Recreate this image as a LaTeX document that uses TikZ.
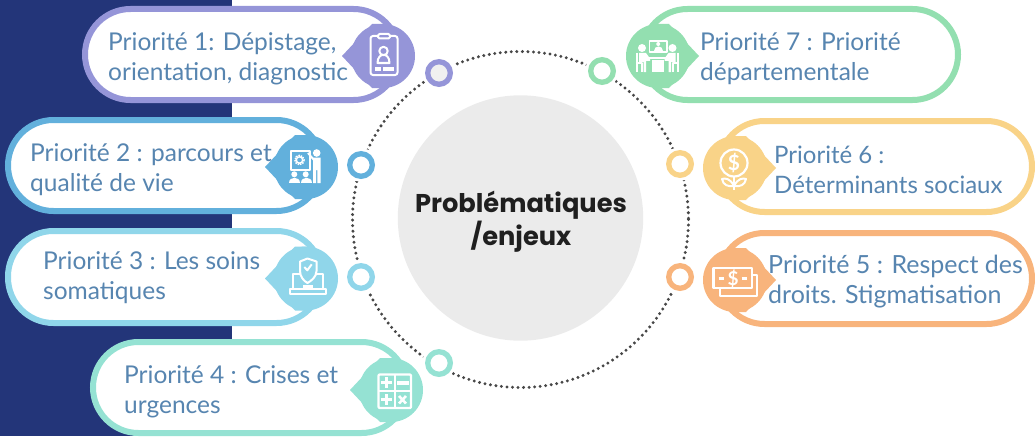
\documentclass[tikz,border=0pt]{standalone}
\usepackage{fontspec}
\setmainfont{Lato}
\newfontfamily\titlefont{Poppins}
\definecolor{prioA}{HTML}{9595D8}
\definecolor{prioB}{HTML}{62B0DC}
\definecolor{prioC}{HTML}{90D6EA}
\definecolor{prioD}{HTML}{95E2D3}
\definecolor{prioE}{HTML}{F8B47C}
\definecolor{prioF}{HTML}{F9D388}
\definecolor{prioG}{HTML}{93DFB0}
\definecolor{prionavy}{HTML}{233579}
\definecolor{priotext}{HTML}{5785B0}
\tikzset{
	pill/.style={draw=#1, line width=6pt, fill=white, rounded corners=45.5pt},
	ring/.style={circle, draw=#1, line width=5.3pt, fill=white, minimum size=22.6pt, inner sep=0pt, preaction={draw=white, line width=11pt}},
	prio/.style={anchor=base west, inner sep=0pt, text=priotext, font=\fontsize{24.5pt}{30pt}\selectfont},
	icon/.style={draw=white, line width=2pt, line join=round},
	iconfill/.style={fill=white},
}
\newcommand{\twolines}[2]{\vtop{\hbox{#1}\hbox{#2}}}
% pointed badge: colour, centre x, centre y, side of the tip (1 = left, -1 = right)
\newcommand{\badge}[4]{
	\fill[#1] (#2, #3) circle (32);
	\fill[#1] ({#2-41*#4}, #3)--({#2-11*#4}, {#3-32})--(#2, {#3-32})--(#2, {#3+32})--({#2-11*#4}, {#3+32})--cycle;
}
\begin{document}
\begin{tikzpicture}[x=1pt, y=-1pt]
	\useasboundingbox (0, 0) rectangle (1035, 436);
	\fill[prionavy] (0, 0) rectangle (232, 436);
	\fill[black!8] (520.5, 218) circle (122.7);
	\draw[line width=3.3pt, black!72, line cap=round, dash pattern=on 0pt off 5.55pt] (520.5, 219.5) circle (168);
	\node[font=\titlefont\bfseries\fontsize{25.7pt}{33pt}\selectfont, text=black!88, anchor=base, inner sep=0pt] (title) at (521, 212) {\vtop{\hbox to 0pt{\hss Problématiques\hss}\hbox to 0pt{\hss /enjeux\hss}}};
	% boxes on the left
	\draw[pill=prioA] (85, 9) rectangle (399, 100);
	\draw[pill=prioB] (8, 120) rectangle (322, 211);
	\draw[pill=prioC] (8, 231) rectangle (322, 323);
	\draw[pill=prioD] (93, 342) rectangle (407, 433);
	% boxes on the right
	\draw[pill=prioG] (642, 9) rectangle (958, 100);
	\draw[pill=prioF] (719, 121) rectangle (1032, 212);
	\draw[pill=prioE] (719, 233) rectangle (1032, 324);
	\badge{prioA}{383}{56}{1}
	\badge{prioB}{306}{167}{1}
	\badge{prioC}{306}{278.5}{1}
	\badge{prioD}{391}{390}{1}
	\badge{prioG}{658}{56}{-1}
	\badge{prioF}{735}{168}{-1}
	\badge{prioE}{735}{280}{-1}
	% rings on the dotted circle
	\node[ring=prioA, fill=black!6] (ringA) at (439, 73) {};
	\node[ring=prioB] (ringB) at (361, 165) {};
	\node[ring=prioC] (ringC) at (361, 277) {};
	\node[ring=prioD] (ringD) at (439, 363) {};
	\node[ring=prioE] (ringE) at (680, 277) {};
	\node[ring=prioF] (ringF) at (680, 164) {};
	\node[ring=prioG] (ringG) at (602, 71) {};
	% clipboard
	\draw[icon, rounded corners=2.5pt] (378, 36)--(370.5, 36)--(370.5, 75)--(397.5, 75)--(397.5, 36)--(390, 36);
	\draw[icon, rounded corners=1.5pt] (378, 34)rectangle(390, 38.5);
	\draw[icon] (383.5, 51) circle (4.2);
	\draw[icon] (377.5, 63)..controls(377.5, 52)and(389.5, 52)..(389.5, 63)--cycle;
	\fill[iconfill] (374.5, 67)rectangle(380.5, 70.5);
	\fill[iconfill] (383, 67)rectangle(394, 70.5);
	% presenter
	\draw[icon] (290.5, 151)rectangle(310, 170);
	\draw[icon, line width=1.4pt] (299.5, 160) circle (3.2);
	\draw[icon, line width=1.6pt, dash pattern=on 1.5pt off 1pt] (299.5, 160) circle (4.6);
	\fill[iconfill] (316.7, 153) circle (3.8);
	\fill[iconfill] (313, 157.5)--(320.5, 157.5)--(320.5, 183)--(317.3, 183)--(317.3, 170)--(316, 170)--(316, 183)--(313, 183)--cycle;
	\draw[icon] (314, 160)--(308, 153);
	\fill[iconfill] (294.3, 174.3) circle (3);
	\fill[iconfill] (305.7, 174.3) circle (3);
	\fill[iconfill] (289, 183)..controls(289, 176)and(300, 176)..(300, 183)--cycle;
	\fill[iconfill] (300.5, 183)..controls(300.5, 176)and(311.5, 176)..(311.5, 183)--cycle;
	% shield on a laptop
	\draw[icon] (300.5, 273.5)--(292.5, 273.5)--(292.5, 288.5);
	\draw[icon] (314.5, 273.5)--(323, 273.5)--(323, 288.5);
	\draw[icon] (289.5, 289)rectangle(325.5, 294);
	\fill[iconfill] (303, 285)rectangle(313, 288);
	\draw[icon] (307.5, 258.5)--(316.5, 261.5)--(316.5, 271)..controls(316.5, 277)and(311, 281)..(307.5, 283)..controls(304, 281)and(300, 277)..(300, 271)--(300, 261.5)--cycle;
	\draw[icon] (304.3, 267)--(307.3, 270.3)--(311.7, 264.3);
	% calculator
	\draw[icon, line width=2.2pt, rounded corners=1pt] (378.5, 374.5)rectangle(411, 408);
	\draw[icon] (394.7, 374.5)--(394.7, 408) (378.5, 391)--(411, 391);
	\draw[icon, line width=2.6pt] (380.5, 382.5)--(392, 382.5) (386.2, 377)--(386.2, 388);
	\fill[iconfill] (397, 381)rectangle(409, 385);
	\draw[icon, line width=3.4pt] (380.5, 399.5)--(392, 399.5) (386.2, 394)--(386.2, 405);
	\draw[icon, line width=2.6pt] (399, 396)--(406, 403.5) (406, 396)--(399, 403.5);
	% money
	\draw[icon, line width=2.4pt] (713.5, 268)rectangle(752, 288);
	\draw[icon, line width=2.4pt] (752, 275)--(757, 275)--(757, 296)--(720, 296)--(720, 288);
	\draw[icon, line width=2.6pt] (718.5, 278.5)--(724, 278.5) (741.5, 278.5)--(747, 278.5);
	\node[text=white, font=\bfseries\fontsize{19pt}{19pt}\selectfont, inner sep=0pt] (dollarE) at (733, 278.5) {\$};
	% flower
	\draw[icon, line width=2.2pt] (734, 163) circle (13.5);
	\node[text=white, font=\bfseries\fontsize{21pt}{21pt}\selectfont, inner sep=0pt] (dollarF) at (734, 163) {\$};
	\draw[icon, line width=2.2pt] (734, 176.5)--(734, 190);
	\draw[icon] (734, 186)..controls(730, 178)and(725, 178)..(722, 179)..controls(723, 185)and(728, 187)..(734, 186);
	\draw[icon] (734, 186)..controls(738, 178)and(743, 178)..(746, 179)..controls(745, 185)and(740, 187)..(734, 186);
	% meeting
	\draw[icon, line width=1.4pt] (649.5, 41)rectangle(667, 52);
	\fill[iconfill] (658.2, 44) circle (2);
	\fill[iconfill] (654, 51)..controls(654, 45.5)and(662.5, 45.5)..(662.5, 51)--cycle;
	\fill[iconfill] (642, 48) circle (4);
	\fill[iconfill] (672.5, 48) circle (4);
	\fill[iconfill] (639, 53)--(646, 53)--(650, 58.5)--(650, 61)--(646, 61)--(646, 72)--(643.5, 72)--(643.5, 62)--(639, 62)--cycle;
	\fill[iconfill] (675.5, 53)--(668.5, 53)--(664.5, 58.5)--(664.5, 61)--(668.5, 61)--(668.5, 72)--(671, 72)--(671, 62)--(675.5, 62)--cycle;
	\draw[icon, line width=1.5pt] (637, 53)--(637, 72) (637, 63)--(642, 63)--(642, 72);
	\draw[icon, line width=1.5pt] (678, 53)--(678, 72) (678, 63)--(673, 63)--(673, 72);
	\fill[iconfill] (649, 57.5)rectangle(666, 59.5);
	\fill[iconfill] (652, 60)rectangle(664, 72);
	% texts
	\node[prio] (textA) at (108, 50.5) {\twolines{Priorité 1: Dépistage,}{orientation, diagnostic}};
	\node[prio] (textB) at (30, 161.5) {\twolines{Priorité 2 : parcours et}{qualité de vie}};
	\node[prio] (textC) at (43, 269.5) {\twolines{Priorité 3 : Les soins}{somatiques}};
	\node[prio] (textD) at (124, 383) {\twolines{Priorité 4 : Crises et}{urgences}};
	\node[prio, font=\fontsize{25pt}{30pt}\selectfont] (textE) at (768, 273) {\twolines{Priorité 5 : Respect des}{droits. Stigmatisation}};
	\node[prio, font=\fontsize{24pt}{30pt}\selectfont] (textF) at (774, 163) {\twolines{Priorité 6 :}{Déterminants sociaux}};
	\node[prio] (textG) at (700, 50.5) {\twolines{Priorité 7 : Priorité}{départementale}};
\end{tikzpicture}
\end{document}
